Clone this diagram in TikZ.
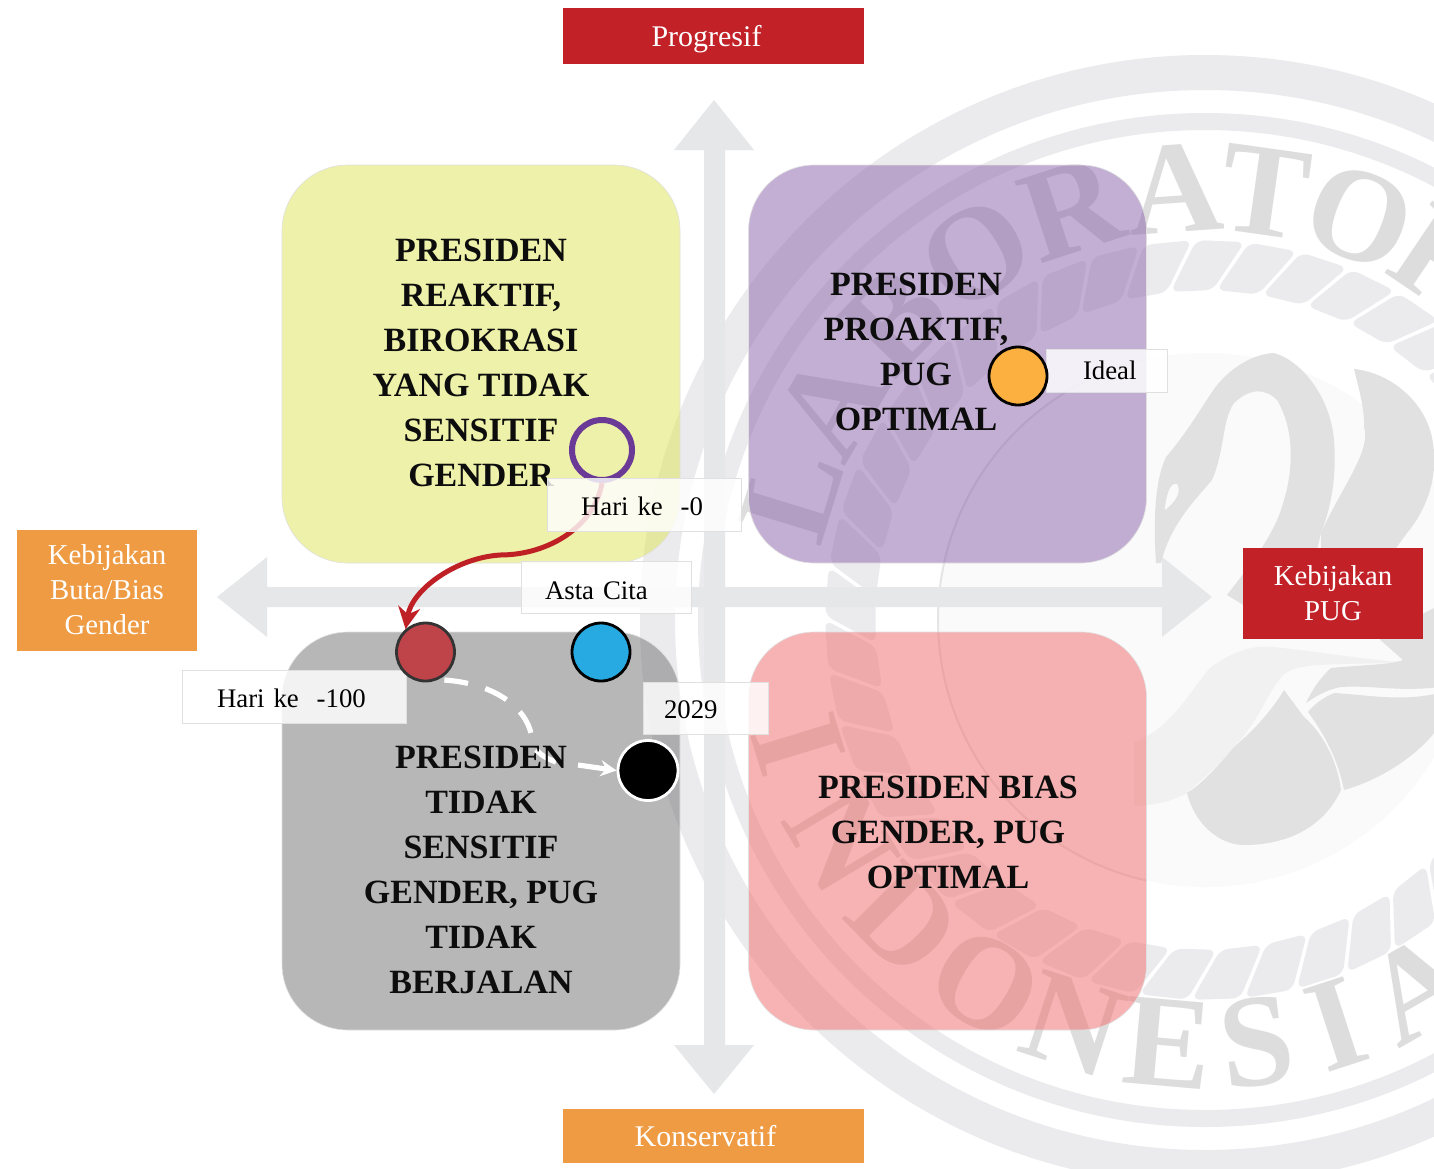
\documentclass[tikz,border=0pt]{standalone}
\usepackage{fontspec}
\setmainfont{Liberation Serif}
\usepackage{tikz}
\usetikzlibrary{arrows.meta,positioning}
\definecolor{axisgray}{HTML}{E6E7E8}
\definecolor{sealring}{HTML}{EBEBED}
\definecolor{sealdark}{HTML}{E1E1E1}
\definecolor{sealbody}{HTML}{F1F1F1}
\definecolor{sealfaint}{HTML}{FAFAFA}
\definecolor{sealword}{HTML}{DDDDDD}
\definecolor{boxred}{HTML}{C12127}
\definecolor{boxorange}{HTML}{EE9B43}
\definecolor{arrowred}{HTML}{BE2026}
\definecolor{ringpurple}{HTML}{6A3A96}
\definecolor{dotred}{HTML}{BF444A}
\definecolor{dotblue}{HTML}{27AAE1}
\definecolor{dotorange}{HTML}{FBB040}
\definecolor{panelyellow}{RGB}{223,229,85}
\definecolor{panelpurple}{RGB}{139,97,171}
\definecolor{panelgray}{RGB}{113,113,115}
\definecolor{panelpink}{RGB}{241,105,105}
\tikzset{
	panel/.style={draw=black!12,line width=.3pt,draw opacity=1,fill opacity=.5,rounded corners=33pt,minimum width=199pt,minimum height=199pt,inner sep=0pt},
	paneltxt/.style={align=center,font=\fontsize{17}{22.5}\selectfont\bfseries,inner sep=0pt,text=black!95},
	axisbox/.style={text=white,align=center,font=\fontsize{14.4}{17.5}\selectfont,inner sep=0pt},
	endbox/.style={axisbox,font=\fontsize{15}{18}\selectfont,text height=10pt,text depth=0pt,minimum width=150.5pt},
	lblbox/.style={draw=black!12,line width=.3pt,draw opacity=1,fill=white,fill opacity=.82,text opacity=1,align=left,inner xsep=0pt,inner ysep=0pt,text height=11pt,text depth=0pt,font=\fontsize{13.4}{16}\selectfont},
	dotnode/.style={circle,minimum size=29pt,inner sep=0pt,line width=1.4pt,draw=black},
	sealword/.style={text=sealword,font=\fontsize{66}{70}\selectfont\bfseries,inner sep=0pt},
	rope/.style={fill=sealring,rounded corners=4pt}
}
\begin{document}
\begin{tikzpicture}[x=0.5pt,y=-0.5pt]
	\path[use as bounding box,fill=white] (0,0) rectangle (1434,1168);

	% seal behind everything
	\begin{scope}
		\clip (0,0) rectangle (1434,1168);
		\coordinate (seal) at (1205,620);
		\fill[sealring,even odd rule] (seal) circle[radius=565] (seal) circle[radius=530];
		\fill[sealring,even odd rule] (seal) circle[radius=507] (seal) circle[radius=490];
		\begin{scope}[shift={(seal)}]
			\foreach \a in {0,8,...,352}
				\fill[rope] (\a:330) -- (\a+7.3:330) -- (\a+12:380) -- (\a+4.7:380) -- cycle;
			\foreach \a/\l in {163/L,150/A,136/B,122/O,108/R,94/A,82/T,69/O,56/R}
				\node[sealword,rotate=\a-90] at (-\a:432) (w\a) {\l};
			\foreach \a/\l in {197/I,211/N,225/D,239/O,252/N,265/E,277/S,288/I,300/A}
				\node[sealword,rotate=\a+90] at (-\a:425) (w\a) {\l};
		\end{scope}
		\fill[sealfaint] (seal) circle[radius=267];
		\begin{scope}
			\clip (0,0) rectangle (1146,1168);
			\draw[black!10,line width=1pt] (seal) circle[radius=267];
		\end{scope}
		% neck and head
		\fill[sealdark] (1156,563) .. controls (1153,520) and (1155,480) .. (1166,457) .. controls (1185,435) and (1200,410) .. (1212,392) .. controls (1225,372) and (1250,354) .. (1274,353) .. controls (1300,360) and (1330,395) .. (1334,440) .. controls (1337,480) and (1330,510) .. (1321,533) -- (1300,625) -- (1268,620) -- (1227,595) .. controls (1250,565) and (1275,535) .. (1284,500) .. controls (1293,470) and (1295,430) .. (1277,400) .. controls (1265,388) and (1250,388) .. (1234,403) .. controls (1222,420) and (1225,450) .. (1212,480) .. controls (1195,500) and (1170,525) .. (1161,563) -- cycle;
		\fill[sealfaint] (1165,508) .. controls (1167,490) and (1172,482) .. (1177,484) .. controls (1182,492) and (1175,502) .. (1165,510) -- cycle;
		% feather on the right
		\fill[sealdark] (1354,369) .. controls (1385,372) and (1420,395) .. (1431,433) .. controls (1440,470) and (1430,505) .. (1407,533) -- (1380,570) -- (1321,570) -- (1321,533) .. controls (1340,490) and (1372,450) .. (1364,427) .. controls (1365,410) and (1358,385) .. (1354,369) -- cycle;
		% body and beak
		\fill[sealbody] (1134,743) .. controls (1175,725) and (1190,690) .. (1211,667) .. controls (1235,650) and (1255,645) .. (1274,647) .. controls (1320,652) and (1370,660) .. (1401,662) .. controls (1360,665) and (1310,662) .. (1291,670) .. controls (1270,680) and (1265,715) .. (1234,747) .. controls (1215,770) and (1195,785) .. (1187,793) .. controls (1170,802) and (1155,805) .. (1134,806) -- cycle;
		\fill[sealdark] (1187,793) .. controls (1195,825) and (1220,845) .. (1244,845) .. controls (1290,845) and (1325,825) .. (1341,790) .. controls (1338,765) and (1325,735) .. (1304,717) -- (1284,690) .. controls (1275,705) and (1260,725) .. (1234,747) .. controls (1215,770) and (1200,785) .. (1187,793) -- cycle;
		\fill[sealdark] (1344,790) .. controls (1380,780) and (1420,755) .. (1440,725) -- (1440,693) .. controls (1400,702) and (1370,695) .. (1334,693) .. controls (1325,697) and (1315,703) .. (1308,712) .. controls (1325,735) and (1338,760) .. (1344,790) -- cycle;
		\fill[sealdark] (1377,637) -- (1440,605) -- (1440,687) .. controls (1400,692) and (1370,685) .. (1341,687) .. controls (1325,690) and (1315,697) .. (1306,703) .. controls (1312,690) and (1320,678) .. (1331,668) .. controls (1360,665) and (1390,665) .. (1403,660) -- cycle;
	\end{scope}

	% axes
	\fill[axisgray] (714,100) -- (754,150) -- (725,150) -- (725,587) -- (1162,587) -- (1162,557) -- (1212,597) -- (1162,637) -- (1162,607) -- (725,607) -- (725,1045) -- (754,1045) -- (714,1094) -- (674,1045) -- (704,1045) -- (704,607) -- (267,607) -- (267,637) -- (217,597) -- (267,557) -- (267,587) -- (704,587) -- (704,150) -- (674,150) -- cycle;

	% quadrants
	\node[panel,fill=panelyellow] at (481,364) (yellowbox) {};
	\node[panel,fill=panelpurple] at (947.5,364) (purplebox) {};
	\node[panel,fill=panelgray] at (481,831) (graybox) {};
	\node[panel,fill=panelpink] at (947.5,831) (pinkbox) {};

	\node[paneltxt] at (481,362.5) (yellowtxt) {PRESIDEN\\REAKTIF,\\BIROKRASI\\YANG TIDAK\\SENSITIF\\GENDER};
	\node[paneltxt] at (916,351.5) (purpletxt) {PRESIDEN\\PROAKTIF,\\PUG\\OPTIMAL};
	\node[paneltxt] at (948,832.5) (pinktxt) {PRESIDEN BIAS\\GENDER, PUG\\OPTIMAL};

	% ends of the axes
	\node[endbox,fill=boxred,minimum height=28pt] at (713.5,36) (progresif) {Progresif\hspace*{7pt}};
	\node[endbox,fill=boxorange,minimum height=27pt] at (713.5,1136) (konservatif) {Konservatif\hspace*{8pt}};
	\node[axisbox,fill=boxorange,minimum width=90pt,minimum height=60.5pt] at (107,590) (buta) {Kebijakan\\Buta/Bias\\Gender};
	\node[axisbox,fill=boxred,minimum width=90pt,minimum height=45.5pt] at (1333,593) (pug) {Kebijakan\\PUG};

	% path from day 0 to day 100
	\node[lblbox,text width=112pt,minimum height=26.5pt] at (294,696.5) (hariseratus) {\hspace*{17.5pt}Hari ke\ \ -100};
	\node[circle,minimum size=30pt,inner sep=0pt,line width=3pt,draw=ringpurple] at (602,450) (ringdot) {};
	\node[dotnode,fill=dotred,draw=black!80] at (425.5,652) (reddot) {};
	\draw[arrowred,line width=2.5pt,-{Stealth[length=11pt,width=11pt]}] (ringdot.south) .. controls (595,525) and (550,555) .. (500,555) .. controls (455,558) and (412,590) .. (reddot.131);

	% labels
	\node[lblbox,text width=97pt,minimum height=26.5pt] at (644,504.5) (harinol) {\hspace*{17pt}Hari ke\ \ -0};
	\node[lblbox,text width=85pt,minimum height=26pt,text height=12.5pt] at (606,587) (astacita) {\hspace*{12pt}Asta Cita};
	\node[lblbox,text width=62.5pt,minimum height=26pt,text height=10pt] at (705.5,708) (tahun) {\hspace*{10.5pt}2029};
	\node[lblbox,text width=60.5pt,minimum height=21.5pt,text height=9pt] at (1106.5,370.5) (ideal) {\hspace*{18.5pt}Ideal};

	% dots
	\node[dotnode,fill=dotblue] at (601,652) (bluedot) {};
	\node[dotnode,fill=dotorange] at (1018,376) (orangedot) {};
	\node[dotnode,fill=black,draw=white,minimum size=30pt] at (648,770.5) (blackdot) {};

	% route to 2029, under the text of its quadrant
	\draw[white,line width=2.6pt,dash pattern=on 12pt off 9pt,shorten <=3pt] (reddot.-65) .. controls (500,684) and (530,712) .. (532,740) .. controls (534,752) and (545,758) .. (556,762);
	\draw[white,line width=2.6pt,-{Stealth[length=8pt,width=8pt]}] (578,765) -- (blackdot.west);
	\node[paneltxt] at (481,869.5) (graytxt) {PRESIDEN\\TIDAK\\SENSITIF\\GENDER, PUG\\TIDAK\\BERJALAN};
\end{tikzpicture}
\end{document}
